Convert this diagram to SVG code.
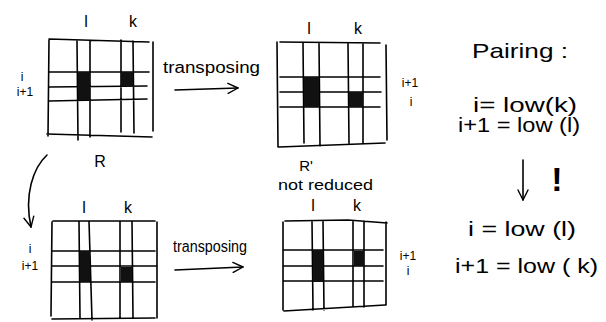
<svg xmlns="http://www.w3.org/2000/svg" width="606" height="322" viewBox="0 0 606 322">
<style>
.ln{stroke:#000;stroke-width:1.6;fill:none;stroke-linecap:round;stroke-linejoin:round}
.cell{fill:#111}
.t{font-family:"Liberation Sans",Arial,sans-serif;fill:#000}
.lab{font-size:16px}
.sm{font-size:12px}
.big{font-size:21px}
</style>
<defs>
<marker id="ah" viewBox="0 0 12 12" refX="11" refY="6" markerWidth="12" markerHeight="12" markerUnits="userSpaceOnUse" orient="auto">
<path d="M1,1 L11,6 L1,11" fill="none" stroke="#000" stroke-width="1.4" stroke-linecap="round" stroke-linejoin="round"/>
</marker>
</defs>
<rect width="606" height="322" fill="#fff"/>

<g id="matrixR">
<path class="ln" d="M49,39 L149,42 M49,40 L48,136 M153,42 L153,131 M47,134 L152,137 M77,41 L78,140 M90,41 L90,137 M121,40 L121,132 M133,41 L134,133 M49,72 L149,72 M49,87 L147,86 M49,101 L147,99"/>
<rect class="cell" x="78" y="72" width="12" height="28"/>
<rect class="cell" x="121" y="72" width="12" height="14"/>
<text class="t lab" x="86" y="27" text-anchor="middle">l</text>
<text class="t lab" x="133" y="27" text-anchor="middle">k</text>
<text class="t sm" x="22" y="81" text-anchor="middle">i</text>
<text class="t sm" x="25" y="96" text-anchor="middle">i+1</text>
<text class="t lab" x="100" y="167" text-anchor="middle">R</text>
</g>

<g id="matrixTop2">
<path class="ln" d="M280,42 L380,43 M277,42 L278,147 M386,45 L387,140 M279,147 L385,143 M303,43 L304,143 M319,43 L320,146 M348,43 L349,143 M363,44 L363,144 M280,77 L380,77 M280,92 L381,92 M280,107 L380,107"/>
<rect class="cell" x="304" y="77" width="15" height="30"/>
<rect class="cell" x="349" y="92" width="14" height="15"/>
<text class="t lab" x="309" y="34" text-anchor="middle">l</text>
<text class="t lab" x="358" y="34" text-anchor="middle">k</text>
<text class="t sm" x="410" y="87" text-anchor="middle">i+1</text>
<text class="t sm" x="411" y="106" text-anchor="middle">i</text>
</g>

<g id="matrixBottom1">
<path class="ln" d="M53,221 L155,221 M52,222 L51,316 M157,222 L157,318 M52,319 L155,318 M79,221 L80,318 M89,221 L92,320 M120,221 L120,318 M132,221 L133,318 M52,251 L155,251 M52,266 L156,266 M52,282 L155,282"/>
<rect class="cell" x="80" y="251" width="10" height="31"/>
<rect class="cell" x="121" y="267" width="11" height="15"/>
<text class="t lab" x="84" y="213" text-anchor="middle">l</text>
<text class="t lab" x="128" y="213" text-anchor="middle">k</text>
<text class="t sm" x="30" y="253" text-anchor="middle">i</text>
<text class="t sm" x="30" y="270" text-anchor="middle">i+1</text>
</g>

<g id="matrixRprime">
<path class="ln" d="M285,221 L348,220 L387,223 M283,222 L283,310 M386,222 L386,305 M284,311 L385,305 M312,221 L313,310 M323,221 L324,310 M353,221 L353,307 M364,221 L364,307 M283,250 L383,250 M283,266 L383,266 M283,281 L383,281"/>
<rect class="cell" x="313" y="250" width="10" height="32"/>
<rect class="cell" x="354" y="251" width="10" height="15"/>
<text class="t" x="306" y="171" font-size="15" text-anchor="middle">R'</text>
<text class="t" x="278" y="190" font-size="14" textLength="95" lengthAdjust="spacingAndGlyphs">not reduced</text>
<text class="t lab" x="313" y="211" text-anchor="middle">l</text>
<text class="t lab" x="357" y="211" text-anchor="middle">k</text>
<text class="t sm" x="408" y="260" text-anchor="middle">i+1</text>
<text class="t sm" x="408" y="275" text-anchor="middle">i</text>
</g>

<g id="pairing">
<text class="t big" x="472" y="58" textLength="96" lengthAdjust="spacingAndGlyphs">Pairing :</text>
<text class="t" x="473" y="112" font-size="20" textLength="104" lengthAdjust="spacingAndGlyphs">i= low(k)</text>
<text class="t" x="458" y="132" font-size="20" textLength="122" lengthAdjust="spacingAndGlyphs">i+1 = low (l)</text>
<text class="t" x="557" y="191" font-size="34" font-weight="bold" text-anchor="middle">!</text>
<text class="t" x="468" y="236" font-size="20" textLength="108" lengthAdjust="spacingAndGlyphs">i = low (l)</text>
<text class="t" x="455" y="273" font-size="20" textLength="143" lengthAdjust="spacingAndGlyphs">i+1 = low ( k)</text>
</g>

<g id="connectors">
<path class="ln" d="M175,90 L238,88" marker-end="url(#ah)"/>
<text class="t lab" x="163" y="73" textLength="97" lengthAdjust="spacingAndGlyphs">transposing</text>
<path class="ln" d="M175,270 L243,267" marker-end="url(#ah)"/>
<text class="t lab" x="173" y="252" textLength="74" lengthAdjust="spacingAndGlyphs">transposing</text>
<path class="ln" d="M47,155 C33,168 24,195 31,227" marker-end="url(#ah)"/>
<path class="ln" d="M523,160 L523,200" marker-end="url(#ah)"/>
</g>
</svg>
